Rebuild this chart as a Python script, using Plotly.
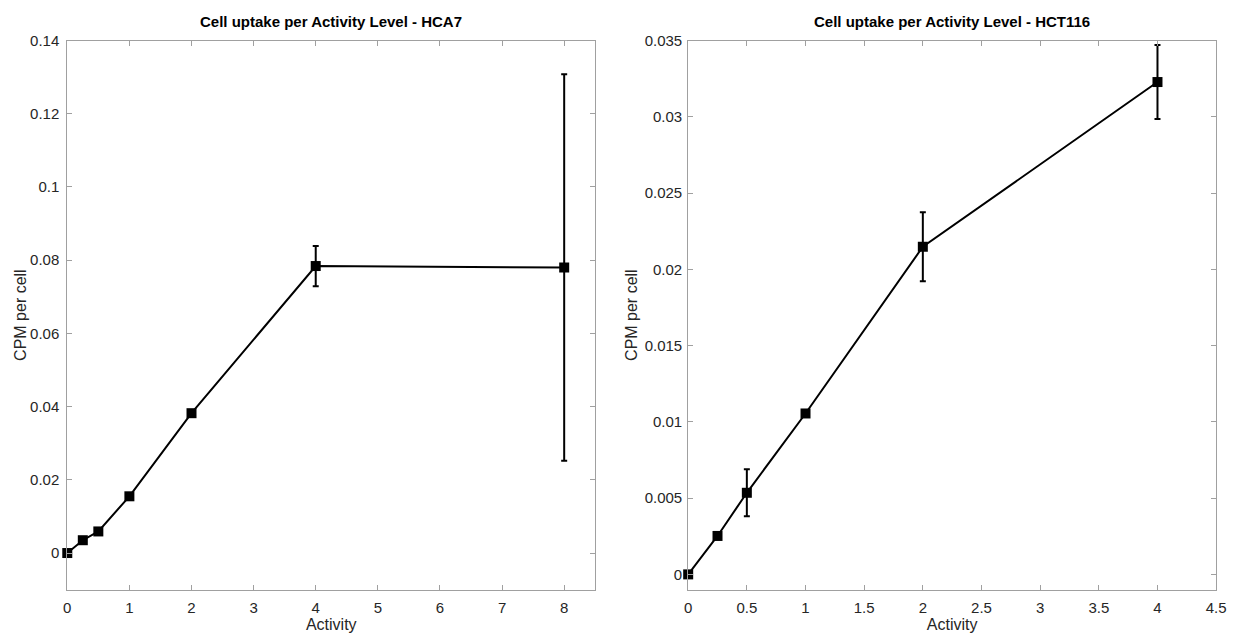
import plotly.graph_objects as go

# HCA7
hca7_activity = [0, 0.25, 0.5, 1, 2, 4, 8]
hca7_cpm = [0.0, 0.0035, 0.0059, 0.0155, 0.0382, 0.0784, 0.078]
hca7_err = [0.0003, 0.0004, 0.0004, 0.0007, 0.0004, 0.0055, 0.0528]

# HCT116
hct116_activity = [0, 0.25, 0.5, 1, 2, 4]
hct116_cpm = [0.0, 0.00252, 0.00535, 0.01055, 0.02148, 0.03228]
hct116_err = [0.0001, 0.0001, 0.00154, 0.0002, 0.00226, 0.00243]

W, H = 1239, 634
font = "Liberation Sans, Arial, sans-serif"
axis_col = "#262626"
line_col = "#a0a0a0"

fig = go.Figure()

def add_series(x, y, e, xa, ya):
    fig.add_trace(go.Scatter(
        x=x, y=y, mode="lines+markers",
        line=dict(color="black", width=2),
        marker=dict(symbol="square", size=10, color="black"),
        error_y=dict(type="data", array=e, visible=True, color="black", thickness=2, width=3),
        xaxis=xa, yaxis=ya, showlegend=False, cliponaxis=False,
    ))

add_series(hca7_activity, hca7_cpm, hca7_err, "x", "y")
add_series(hct116_activity, hct116_cpm, hct116_err, "x2", "y2")

ydom = [1 - 589 / H, 1 - 32 / H]
common = dict(
    showgrid=False, zeroline=False, showline=True, linecolor=line_col, linewidth=1,
    mirror="ticks", ticks="inside", ticklen=5, tickcolor=line_col,
    tickfont=dict(family=font, size=15, color=axis_col),
    title_font=dict(family=font, size=16, color=axis_col),
)

ylab_font = dict(family=font, size=16, color=axis_col)
ymid = (ydom[0] + ydom[1]) / 2

fig.update_layout(
    width=W, height=H,
    margin=dict(l=0, r=0, t=0, b=0),
    paper_bgcolor="white", plot_bgcolor="white",
    xaxis=dict(domain=[64 / W, 598 / W], range=[0, 8.5], tickmode="array",
               tickvals=[0, 1, 2, 3, 4, 5, 6, 7, 8], anchor="y", ticklabelstandoff=4,
               title=dict(text="Activity", standoff=2), **common),
    yaxis=dict(domain=ydom, range=[-0.01, 0.14], tickmode="array",
               tickvals=[0, 0.02, 0.04, 0.06, 0.08, 0.1, 0.12, 0.14],
               ticktext=["0", "0.02", "0.04", "0.06", "0.08", "0.1", "0.12", "0.14"],
               anchor="x", ticklabelstandoff=4, **common),
    xaxis2=dict(domain=[692 / W, 1226 / W], range=[0, 4.5], tickmode="array",
                tickvals=[0, 0.5, 1, 1.5, 2, 2.5, 3, 3.5, 4, 4.5],
                ticktext=["0", "0.5", "1", "1.5", "2", "2.5", "3", "3.5", "4", "4.5"],
                anchor="y2", ticklabelstandoff=4,
                title=dict(text="Activity", standoff=2), **common),
    yaxis2=dict(domain=ydom, range=[-0.001, 0.035], tickmode="array",
                tickvals=[0, 0.005, 0.01, 0.015, 0.02, 0.025, 0.03, 0.035],
                ticktext=["0", "0.005", "0.01", "0.015", "0.02", "0.025", "0.03", "0.035"],
                anchor="x2", ticklabelstandoff=2, **common),
    annotations=[
        dict(text="<b>Cell uptake per Activity Level - HCA7</b>", xref="paper", yref="paper",
             x=(64 + 598) / 2 / W, y=1 - 13 / H, xanchor="center", yanchor="middle",
             showarrow=False, font=dict(family=font, size=15, color="black")),
        dict(text="<b>Cell uptake per Activity Level - HCT116</b>", xref="paper", yref="paper",
             x=(692 + 1226) / 2 / W, y=1 - 13 / H, xanchor="center", yanchor="middle",
             showarrow=False, font=dict(family=font, size=15, color="black")),
        dict(text="CPM per cell", xref="paper", yref="paper", x=16 / W, y=ymid,
             xanchor="center", yanchor="middle", textangle=-90, showarrow=False, font=ylab_font),
        dict(text="CPM per cell", xref="paper", yref="paper", x=634 / W, y=ymid,
             xanchor="center", yanchor="middle", textangle=-90, showarrow=False, font=ylab_font),
    ],
)

fig.write_html("out.html")
